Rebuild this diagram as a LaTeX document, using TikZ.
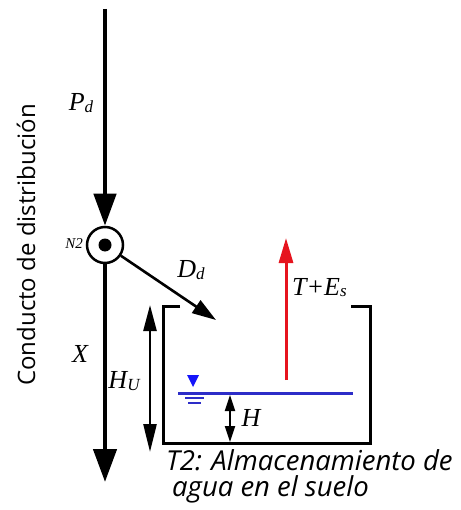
\documentclass[tikz,border=0pt]{standalone}
\usepackage{fontspec}
\setmainfont{Liberation Serif}
\newfontfamily\osans{Open Sans}
\usetikzlibrary{arrows.meta}
\definecolor{wred}{RGB}{230,20,30}
\definecolor{wblue}{RGB}{45,45,200}
\definecolor{tblue}{RGB}{20,20,250}
\newcommand\lsub[1]{{\fontsize{17}{17}\selectfont\raisebox{-1.5pt}{#1}}}
\begin{document}
\begin{tikzpicture}[x=1pt,y=-1pt,
  pipe/.style={line width=4.5pt},
  wall/.style={line width=3pt},
  lbl/.style={font=\fontsize{26}{30}\selectfont\itshape, inner sep=0pt},
  captxt/.style={font=\osans\itshape\fontsize{27.5}{32}\selectfont, inner sep=0pt, anchor=base west},
]
\useasboundingbox (0,0) rectangle (460,510);
% main conduit
\coordinate (top) at (105,9);
\coordinate (bot) at (105,482);
\node[circle, draw, line width=2.5pt, minimum size=36pt, inner sep=0pt] (n2) at (105,245) {};
\fill (n2.center) circle (6.5);
\draw[pipe, -{Triangle[length=32pt,width=22pt]}] (top) -- (n2.north);
\draw[pipe, -{Triangle[length=33pt,width=23pt]}] (n2.south) -- (bot);
% tank
\coordinate (tl) at (180,306);
\coordinate (tlc) at (163,306);
\coordinate (blc) at (163,443);
\coordinate (brc) at (370,443);
\coordinate (trc) at (370,306);
\coordinate (tr) at (351,306);
\draw[wall] (tl) -- (tlc) -- (blc) -- (brc) -- (trc) -- (tr);
% Dd arrow
\coordinate (ddtip) at (216,320);
\draw[line width=2.6pt, -{Triangle[length=24pt,width=15pt]}] (n2) -- (ddtip);
% Hu arrow
\coordinate (hut) at (150,305);
\coordinate (hub) at (150,452);
\draw[line width=2.5pt, {Triangle[length=26pt,width=13pt]}-{Triangle[length=28pt,width=13pt]}] (hut) -- (hub);
% T+Es arrow
\coordinate (rb) at (286,380);
\coordinate (rt) at (286,238);
\draw[wred, line width=3pt, -{Triangle[length=25pt,width=14pt]}] (rb) -- (rt);
% water table
\coordinate (wl) at (178,393);
\coordinate (wr) at (353,393);
\draw[wblue, line width=3pt] (wl) -- (wr);
\fill[tblue] (187,375) -- (199,375) -- (193,387) -- cycle;
\draw[wblue, line width=1.2pt] (185,398) -- (204,398);
\draw[wblue, line width=1.2pt] (188,403) -- (201,403);
% H arrow
\coordinate (ht) at (230,395);
\coordinate (hb) at (230,442);
\draw[line width=2pt, {Triangle[length=16pt,width=10pt]}-{Triangle[length=16pt,width=10pt]}] (ht) -- (hb);
% labels
\node[lbl] (pd) at (81,103) {P\lsub{d}};
\node[font=\fontsize{15}{17}\selectfont\itshape, inner sep=0pt, anchor=east] (n2l) at (83,244) {N2};
\node[lbl] (dd) at (191,270) {D\lsub{d}};
\node[lbl] (x) at (80,354) {X};
\node[lbl] (hu) at (124,381) {H\lsub{U}};
\node[lbl, anchor=base west] (tes) at (292,295) {T+E\lsub{s}};
\node[lbl] (h) at (251,418) {H};
\node[rotate=90, anchor=base, font=\osans\fontsize{24}{28}\selectfont, inner sep=0pt] (cond) at (35,245) {Conducto de distribución};
\node[captxt] (c1) at (166,470) {T2: Almacenamiento de};
\node[captxt] (c2) at (172,496) {agua en el suelo};
\end{tikzpicture}
\end{document}
